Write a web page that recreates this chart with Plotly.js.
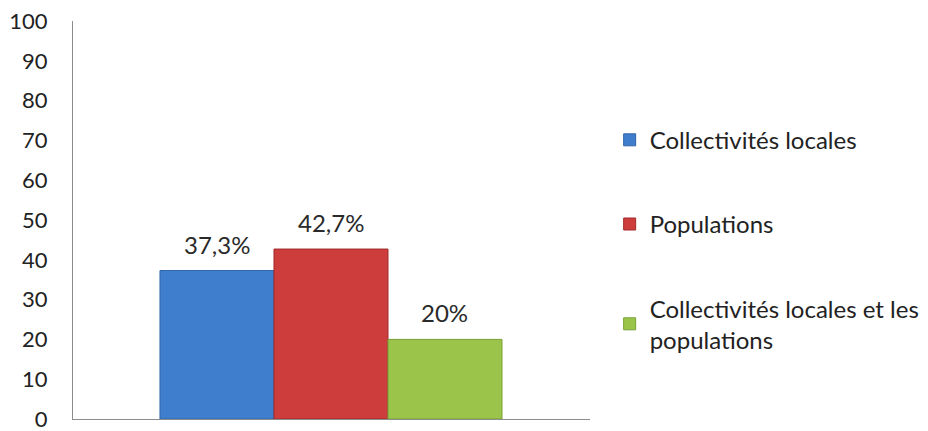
<!DOCTYPE html>
<html>
<head>
<meta charset="utf-8">
<script src="https://cdn.plot.ly/plotly-3.0.1.min.js"></script>
<style>html,body{margin:0;padding:0;background:#fff;}#chart{width:928px;height:431px;}</style>
</head>
<body>
<div id="chart"></div>
<script>
const seriesNames = ["Collectivités locales", "Populations", "Collectivités locales et les<br>populations"];
const seriesValues = [37.3, 42.7, 20];
const seriesLabels = ["37,3%", "42,7%", "20%"];
const seriesColors = ["#3f7ecd", "#cc3d3c", "#9bc54a"];
const seriesEdges = ["#2f64a8", "#a02b2b", "#77a033"];
const yTicks = [0, 10, 20, 30, 40, 50, 60, 70, 80, 90, 100];

const FONT = "Lato, 'Open Sans', sans-serif";

const traces = seriesNames.map((name, i) => ({
  type: "bar",
  name: name,
  x: [i],
  y: [seriesValues[i]],
  width: 1,
  marker: {color: seriesColors[i], line: {color: seriesEdges[i], width: 1}},
  legendgroup: "g" + i,
  hoverinfo: "none"
}));

const annotations = seriesLabels.map((lab, i) => ({
  x: i, y: seriesValues[i], xref: "x", yref: "y",
  text: lab, showarrow: false, yanchor: "bottom", yshift: 10,
  font: {family: FONT, size: 24, color: "#2a2a2a"}
}));

const layout = {
  width: 928, height: 431,
  margin: {l: 73, r: 338, t: 21, b: 12, autoexpand: false},
  paper_bgcolor: "#fff", plot_bgcolor: "#fff",
  font: {family: FONT, size: 23, color: "#222"},
  barmode: "overlay",
  showlegend: true,
  annotations: annotations,
  legend: {
    x: 1.038, xanchor: "left", y: 0.757, yanchor: "top",
    font: {family: FONT, size: 24, color: "#222"},
    traceorder: "grouped", tracegroupgap: 50,
    bgcolor: "rgba(0,0,0,0)"
  },
  xaxis: {
    type: "linear", range: [-1.263, 3.272],
    showticklabels: false, showgrid: false, zeroline: false,
    showline: true, linecolor: "#8c8c8c", linewidth: 1, ticks: ""
  },
  yaxis: {
    range: [0, 100], tickvals: yTicks, showgrid: false, zeroline: false,
    showline: true, linecolor: "#8c8c8c", linewidth: 1, ticks: "",
    ticklabelstandoff: 20, ticklabeloverflow: "allow",
    tickfont: {family: FONT, size: 22, color: "#222"}
  }
};

Plotly.newPlot("chart", traces, layout, {displayModeBar: false, staticPlot: true});
</script>
</body>
</html>
